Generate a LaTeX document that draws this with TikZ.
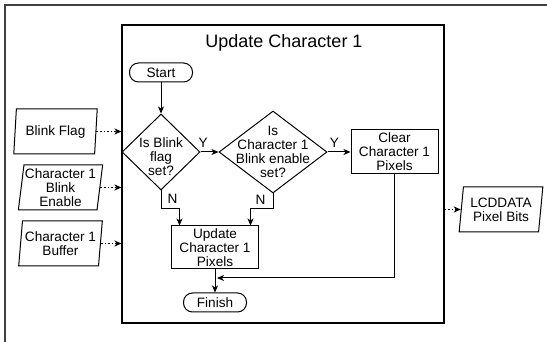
\documentclass[tikz,border=0pt]{standalone}
\usepackage{fontspec}
\setmainfont{Liberation Sans}
\usepackage{tikz}
\usetikzlibrary{shapes.geometric, arrows.meta, positioning}
\newcommand{\flowfont}{\fontsize{13.6pt}{14pt}\selectfont}

\begin{document}
\begin{tikzpicture}[x=1pt, y=-1pt, line width=1pt, font=\flowfont,
    >={Stealth[length=7pt, width=6pt, inset=2pt]},
    process/.style={draw, rectangle, align=center, inner sep=1pt, minimum width=87pt, minimum height=44pt},
    terminal/.style={draw, rectangle, rounded corners=9pt, inner sep=1pt, minimum width=63pt, minimum height=19pt},
    decision/.style={draw, diamond, inner sep=0pt},
    datain/.style={draw, trapezium, trapezium left angle=82, trapezium right angle=98, trapezium stretches=true, align=center, inner sep=1pt, minimum width=84pt, minimum height=45pt},
    dataflow/.style={->, dash pattern=on 1.6pt off 2pt},
    yn/.style={inner sep=1pt}]
    \useasboundingbox (0,0) rectangle (547,342);
    \draw[line width=1.2pt, black!75] (5,350) -- (5,5) -- (560,5);

    \node[draw, line width=1.1pt, minimum width=322pt, minimum height=298pt] (box) at (283,174) {};
    \node[font=\fontsize{18pt}{20pt}\selectfont] (title) at (284,43) {Update Character 1};

    \node[terminal] (start) at (161,72.5) {Start};
    \node[decision, minimum width=78pt, minimum height=76pt, label={[align=center, yshift=-5pt]center:Is Blink\\flag\\set?}] (d1) at (161,152) {};
    \node[decision, minimum width=108pt, minimum height=82pt, label={[align=center]center:Is\\Character 1\\Blink enable\\set?}] (d2) at (273,152) {};
    \node[process] (clear) at (394.5,152) {Clear\\Character 1\\Pixels};
    \node[process, minimum height=43pt] (upd) at (215,247.5) {Update\\Character 1\\Pixels};
    \node[terminal] (fin) at (215,302.5) {Finish};
    \coordinate (join) at (217,278);

    \node[datain] (flag) at (55.5,131.5) {Blink Flag};
    \node[datain] (enable) at (60.5,187.5) {Character 1\\Blink\\Enable};
    \node[datain] (buffer) at (60.5,243.5) {Character 1\\Buffer};
    \node[datain] (lcd) at (501,209.5) {LCDDATA\\Pixel Bits};

    \draw[->] (start) -- (d1);
    \draw[->] (d1) -- node[yn, pos=0.15, above=3pt] {Y} (d2);
    \draw[->] (d2) -- node[yn, pos=0.3, above=3pt] {Y} (clear);
    \draw[->] (d1.south) -- node[yn, right=5pt, pos=0.45] {N} ++(0,18) -| ([xshift=-35.5pt]upd.north);
    \draw[->] (d2.south) -- node[yn, left=6pt, pos=0.45] {N} ++(0,15) -| ([xshift=35.5pt]upd.north);
    \draw[->] (clear.south) |- (join);
    \draw[->] (upd) -- (fin);

    \draw[dataflow] (flag.east) -- (flag.east -| box.west);
    \draw[dataflow] (enable.east) -- (enable.east -| box.west);
    \draw[dataflow] (buffer.east) -- (buffer.east -| box.west);
    \draw[dataflow] (box.east |- lcd.west) -- (lcd.west);
\end{tikzpicture}
\end{document}
